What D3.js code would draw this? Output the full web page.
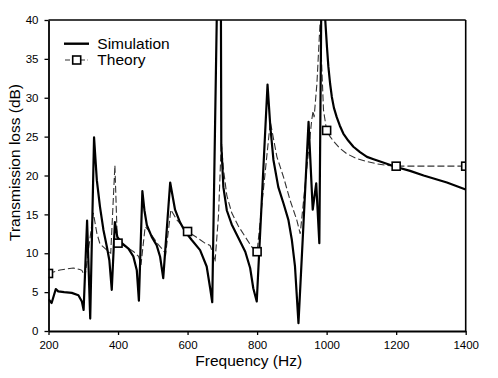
<!DOCTYPE html>
<html><head><meta charset="utf-8">
<script src="https://cdn.jsdelivr.net/npm/d3@7/dist/d3.min.js"></script>
<style>
html,body{margin:0;padding:0;background:#fff;}
svg{display:block;font-family:"Liberation Sans",Arial,sans-serif;}
</style></head>
<body><svg id="chart" width="498" height="378"></svg>
<script>
const xTicks = [200, 400, 600, 800, 1000, 1200, 1400];
const yTicks = [0, 5, 10, 15, 20, 25, 30, 35, 40];

const simFreq = [200,209,221,228,245,267,286,296,301,311,320,331,339,348,358,368,375,382,391,398,411,430,444,454,460,470,476,483,497,511,521,530,550,564,578,593,612,636,655,665,671,691,696,697,703,713,727,746,766,780,789,799,830,838,847,861,876,890,900,909,919,933,948,960,970,979,988,996,1001,1005,1010,1015,1021,1029,1038,1048,1062,1077,1096,1116,1135,1154,1200,1240,1279,1346,1400];
const simTL   = [4.1,3.6,5.4,5.1,5.0,4.9,4.6,3.8,2.7,14.2,1.6,24.9,19.4,16.0,13.0,10.8,9.1,5.3,14.0,12.1,11.3,10.6,9.6,7.8,3.9,18.0,15.5,13.6,12.1,11.05,9.55,6.8,19.1,15.6,14.0,12.8,11.7,10.4,8.3,5.5,3.7,60,40,24,18.5,15.5,13.7,12.0,10.2,8.1,5.5,3.8,31.7,26.3,22.0,18.5,16.4,14.3,11.7,8.3,1.0,13.4,26.9,15.6,19.0,11.3,60,40,36.5,34.0,31.8,30.1,28.7,27.5,26.4,25.4,24.5,23.7,23.0,22.4,22.1,21.8,21.1,20.6,20.0,19.1,18.2];

const theoFreq = [200,233,271,290,296,305,329,339,348,368,379,391,398,400,425,445,459,466,478,487,502,516,530,537,552,569,600,631,650,665,674,679,689,697,703,713,727,746,766,785,800,838,857,876,895,914,924,957,961,964,972,981,991,1000,1010,1020,1038,1058,1085,1116,1145,1173,1200,1300,1400];
const theoTL   = [7.4,7.85,8.1,7.9,7.8,7.0,15.2,12.6,11.2,10.4,10.0,21.3,11.5,11.3,10.8,10.2,9.6,8.5,13.4,13.0,12.0,11.1,10.4,9.9,15.6,14.3,12.8,11.9,11.3,11.0,9.8,8.9,14.9,24.3,20.9,17.4,15.2,13.5,12.1,10.8,10.2,26.9,22.4,19.8,16.8,14.3,12.5,27.1,28.3,27.5,31.8,39.6,28.4,25.8,25.0,24.4,23.5,22.8,22.2,21.8,21.5,21.3,21.2,21.2,21.2];

const markerFreq = [200, 400, 600, 800, 1000, 1200, 1400];
const markerTL   = [7.4, 11.3, 12.8, 10.2, 25.8, 21.2, 21.2];

const seriesNames = ["Simulation", "Theory"];

const svg = d3.select("#chart");
const L = 48.5, R = 465.7, T = 20, B = 331;
const x = d3.scaleLinear().domain([200, 1400]).range([L, R]);
const y = d3.scaleLinear().domain([0, 40]).range([B, T]);

svg.append("defs").append("clipPath").attr("id","plotclip")
  .append("rect").attr("x", L).attr("y", T).attr("width", R - L).attr("height", B - T);

const plot = svg.append("g").attr("clip-path","url(#plotclip)");
const line = d3.line().x(d => x(d[0])).y(d => y(d[1]));

const theo = theoFreq.map((f,i) => [f, theoTL[i]]);
const sim = simFreq.map((f,i) => [f, simTL[i]]);

plot.append("path").datum(theo).attr("d", line)
  .attr("fill","none").attr("stroke","#333").attr("stroke-width",1.1)
  .attr("stroke-dasharray","7,3");
plot.append("path").datum(sim).attr("d", line)
  .attr("fill","none").attr("stroke","#000").attr("stroke-width",2.2)
  .attr("stroke-linejoin","round");

plot.selectAll("rect.mk").data(markerFreq.map((f,i)=>[f, markerTL[i]])).enter()
  .append("rect").attr("class","mk")
  .attr("x", d => x(d[0]) - 4).attr("y", d => y(d[1]) - 4)
  .attr("width", 8).attr("height", 8)
  .attr("fill","#fff").attr("stroke","#000").attr("stroke-width",1.6);

// frame top and right
svg.append("line").attr("x1", L).attr("x2", R).attr("y1", T).attr("y2", T)
  .attr("stroke","#000").attr("stroke-width",1.6);
svg.append("line").attr("x1", R).attr("x2", R).attr("y1", T).attr("y2", B)
  .attr("stroke","#000").attr("stroke-width",1.6);

const xAxis = svg.append("g").attr("transform", `translate(0,${B})`)
  .call(d3.axisBottom(x).tickValues(xTicks).tickFormat(d3.format("d")).tickSize(4).tickPadding(6).tickSizeOuter(0));
const yAxis = svg.append("g").attr("transform", `translate(${L},0)`)
  .call(d3.axisLeft(y).tickValues(yTicks).tickFormat(d3.format("d")).tickSize(4).tickPadding(6).tickSizeOuter(0));
[xAxis, yAxis].forEach(g => {
  g.select(".domain").attr("stroke","#000").attr("stroke-width",1.8);
  g.selectAll(".tick line").attr("stroke","#000").attr("stroke-width",1.3);
  g.selectAll(".tick text").attr("fill","#000").style("font-size","11.5px")
    .style("font-family","'Liberation Sans',Arial,sans-serif");
});

svg.append("text").attr("x", 248.7).attr("y", 366).attr("text-anchor","middle")
  .style("font-size","15.5px").attr("fill","#000").text("Frequency (Hz)");
svg.append("text").attr("transform","translate(20,162.5) rotate(-90)")
  .attr("text-anchor","middle").style("font-size","15.5px").attr("fill","#000")
  .text("Transmission loss (dB)");

// legend
const lg = svg.append("g");
lg.append("line").attr("x1",64).attr("x2",89).attr("y1",43.7).attr("y2",43.7)
  .attr("stroke","#000").attr("stroke-width",2.4);
lg.append("text").attr("x",97.3).attr("y",48.5).style("font-size","15.5px").text(seriesNames[0]);
lg.append("line").attr("x1",65).attr("x2",88).attr("y1",60).attr("y2",60)
  .attr("stroke","#333").attr("stroke-width",1.1).attr("stroke-dasharray","5,2.5");
lg.append("rect").attr("x",72.7).attr("y",56).attr("width",8).attr("height",8)
  .attr("fill","#fff").attr("stroke","#000").attr("stroke-width",1.6);
lg.append("text").attr("x",97.3).attr("y",64.5).style("font-size","15.5px").text(seriesNames[1]);
</script></body></html>
